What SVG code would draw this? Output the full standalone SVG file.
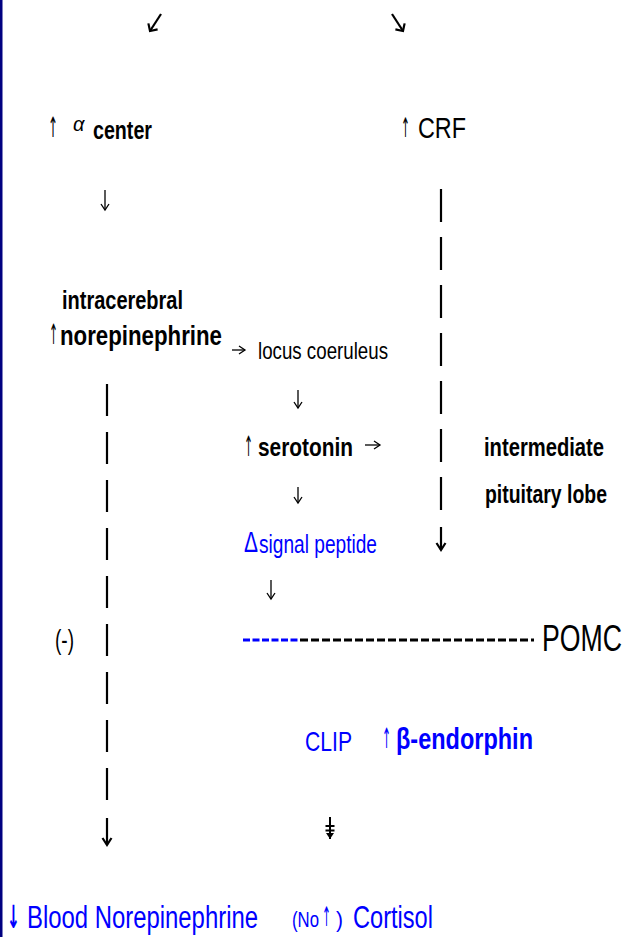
<svg xmlns="http://www.w3.org/2000/svg" width="625" height="937" viewBox="0 0 625 937">
  <style>
    .t { font-family: "Liberation Sans", Arial, sans-serif; fill: #000; }
    .b { font-weight: bold; }
    .blue { fill: #0000ff; }
    .arr { font-family: "DejaVu Sans", sans-serif; }
    .thin { fill: none; stroke: #000; stroke-width: 1.3; marker-end: url(#open); }
    .bold { fill: none; stroke: #000; stroke-width: 2.2; marker-end: url(#openBold); }
    .diag { fill: none; stroke: #000; stroke-width: 2.2; marker-end: url(#corner); }
    .dash { fill: none; stroke: #000; stroke-width: 2.2; }
  </style>
  <defs>
    <marker id="open" markerUnits="userSpaceOnUse" markerWidth="12" markerHeight="12" refX="7" refY="6" orient="auto">
      <path d="M1,2 L7,6 L1,10" fill="none" stroke="#000" stroke-width="1.3"/>
    </marker>
    <marker id="openBold" markerUnits="userSpaceOnUse" markerWidth="14" markerHeight="14" refX="8" refY="7" orient="auto">
      <path d="M1,2.5 L8,7 L1,11.5" fill="none" stroke="#000" stroke-width="2.2"/>
    </marker>
    <marker id="corner" markerUnits="userSpaceOnUse" markerWidth="14" markerHeight="14" refX="7" refY="7" orient="auto">
      <path d="M1.5,1.5 L7,7 L1.5,12.5" fill="none" stroke="#000" stroke-width="2.2"/>
    </marker>
    <marker id="solid" markerUnits="userSpaceOnUse" markerWidth="10" markerHeight="10" refX="6" refY="5" orient="auto">
      <path d="M0,1 L6,5 L0,9 Z" fill="#000"/>
    </marker>
  </defs>

  <rect width="625" height="937" fill="#fff"/>
  <!-- slide frame edge -->
  <rect x="0" y="0" width="2.5" height="937" fill="#000080"/>

  <g id="connectors">
    <!-- split from the top -->
    <path class="diag" d="M161,14 L150,31"/>
    <path class="diag" d="M392,14 L403,31"/>
    <!-- alpha center to norepinephrine -->
    <path class="thin" d="M105,190 L105,210"/>
    <!-- CRF to intermediate lobe -->
    <path class="dash" d="M441,189 L441,512" stroke-dasharray="33 15"/>
    <path class="bold" d="M441,527 L441,550"/>
    <!-- norepinephrine to blood level -->
    <path class="dash" d="M107,384 L107,801" stroke-dasharray="32 16"/>
    <path class="bold" d="M107,818 L107,845"/>
    <!-- central chain -->
    <path class="thin" d="M232,350 L245,350"/>
    <path class="thin" d="M298,390 L298,408"/>
    <path class="thin" d="M365,445 L380,445"/>
    <path class="thin" d="M298,487 L298,503"/>
    <path class="thin" d="M271,580 L271,599"/>
    <!-- POMC chain -->
    <path d="M243,640 L300,640" fill="none" stroke="#0000ff" stroke-width="3" stroke-dasharray="7 2.5"/>
    <path d="M300,640 L534,640" fill="none" stroke="#000" stroke-width="3" stroke-dasharray="8 3"/>
    <!-- blocked path to cortisol -->
    <path d="M330,817 L330,839" fill="none" stroke="#000" stroke-width="2" marker-end="url(#solid)"/>
    <path d="M325.5,826 L334.5,826 M325.5,830.5 L334.5,830.5" fill="none" stroke="#000" stroke-width="1.8"/>
  </g>

  <g id="alpha-center">
    <text class="t arr" x="48" y="137" font-size="28" textLength="10" lengthAdjust="spacingAndGlyphs">↑</text>
    <text class="t" x="73" y="131" font-size="20" font-style="italic">α</text>
    <text class="t b" x="93" y="139" font-size="25" textLength="59" lengthAdjust="spacingAndGlyphs">center</text>
  </g>

  <g id="crf">
    <text class="t arr" x="401" y="137" font-size="27" textLength="9" lengthAdjust="spacingAndGlyphs">↑</text>
    <text class="t" x="418" y="138" font-size="29" textLength="48" lengthAdjust="spacingAndGlyphs">CRF</text>
  </g>

  <g id="norepinephrine">
    <text class="t b" x="62" y="309" font-size="26" textLength="121" lengthAdjust="spacingAndGlyphs">intracerebral</text>
    <text class="t arr" x="49" y="344" font-size="28" textLength="9" lengthAdjust="spacingAndGlyphs">↑</text>
    <text class="t b" x="60" y="345" font-size="27" textLength="162" lengthAdjust="spacingAndGlyphs">norepinephrine</text>
  </g>

  <g id="locus-coeruleus">
    <text class="t" x="258" y="359" font-size="24" textLength="130" lengthAdjust="spacingAndGlyphs">locus coeruleus</text>
  </g>

  <g id="serotonin">
    <text class="t arr" x="244" y="456" font-size="28" textLength="9" lengthAdjust="spacingAndGlyphs">↑</text>
    <text class="t b" x="258" y="456" font-size="26" textLength="95" lengthAdjust="spacingAndGlyphs">serotonin</text>
  </g>

  <g id="pituitary-lobe">
    <text class="t b" x="484" y="456" font-size="26" textLength="120" lengthAdjust="spacingAndGlyphs">intermediate</text>
    <text class="t b" x="485" y="503" font-size="26" textLength="122" lengthAdjust="spacingAndGlyphs">pituitary lobe</text>
  </g>

  <g id="signal-peptide">
    <text class="t blue" x="244" y="552" font-size="30" textLength="14" lengthAdjust="spacingAndGlyphs">Δ</text>
    <text class="t blue" x="259" y="553" font-size="25" textLength="118" lengthAdjust="spacingAndGlyphs">signal peptide</text>
  </g>

  <g id="pomc">
    <text class="t" x="542" y="651" font-size="37" textLength="80" lengthAdjust="spacingAndGlyphs">POMC</text>
  </g>

  <g id="inhibition">
    <text class="t" x="55" y="649" font-size="27" textLength="19" lengthAdjust="spacingAndGlyphs">(-)</text>
  </g>

  <g id="clip">
    <text class="t blue" x="305" y="751" font-size="28" textLength="47" lengthAdjust="spacingAndGlyphs">CLIP</text>
  </g>

  <g id="beta-endorphin">
    <text class="t arr blue" x="382" y="748" font-size="28" textLength="9" lengthAdjust="spacingAndGlyphs">↑</text>
    <text class="t b blue" x="396" y="749" font-size="30" textLength="137" lengthAdjust="spacingAndGlyphs">β-endorphin</text>
  </g>

  <g id="blood-norepinephrine">
    <text class="t arr blue b" x="7" y="928" font-size="32" textLength="13" lengthAdjust="spacingAndGlyphs">↓</text>
    <text class="t blue" x="27" y="928" font-size="31" textLength="231" lengthAdjust="spacingAndGlyphs">Blood Norepinephrine</text>
  </g>

  <g id="cortisol">
    <text class="t blue" x="292" y="927" font-size="22" textLength="27" lengthAdjust="spacingAndGlyphs">(No</text>
    <text class="t arr blue" x="322" y="926" font-size="27" textLength="9" lengthAdjust="spacingAndGlyphs">↑</text>
    <text class="t blue" x="336" y="927" font-size="22" textLength="7" lengthAdjust="spacingAndGlyphs">)</text>
    <text class="t blue" x="353" y="928" font-size="31" textLength="80" lengthAdjust="spacingAndGlyphs">Cortisol</text>
  </g>
</svg>
